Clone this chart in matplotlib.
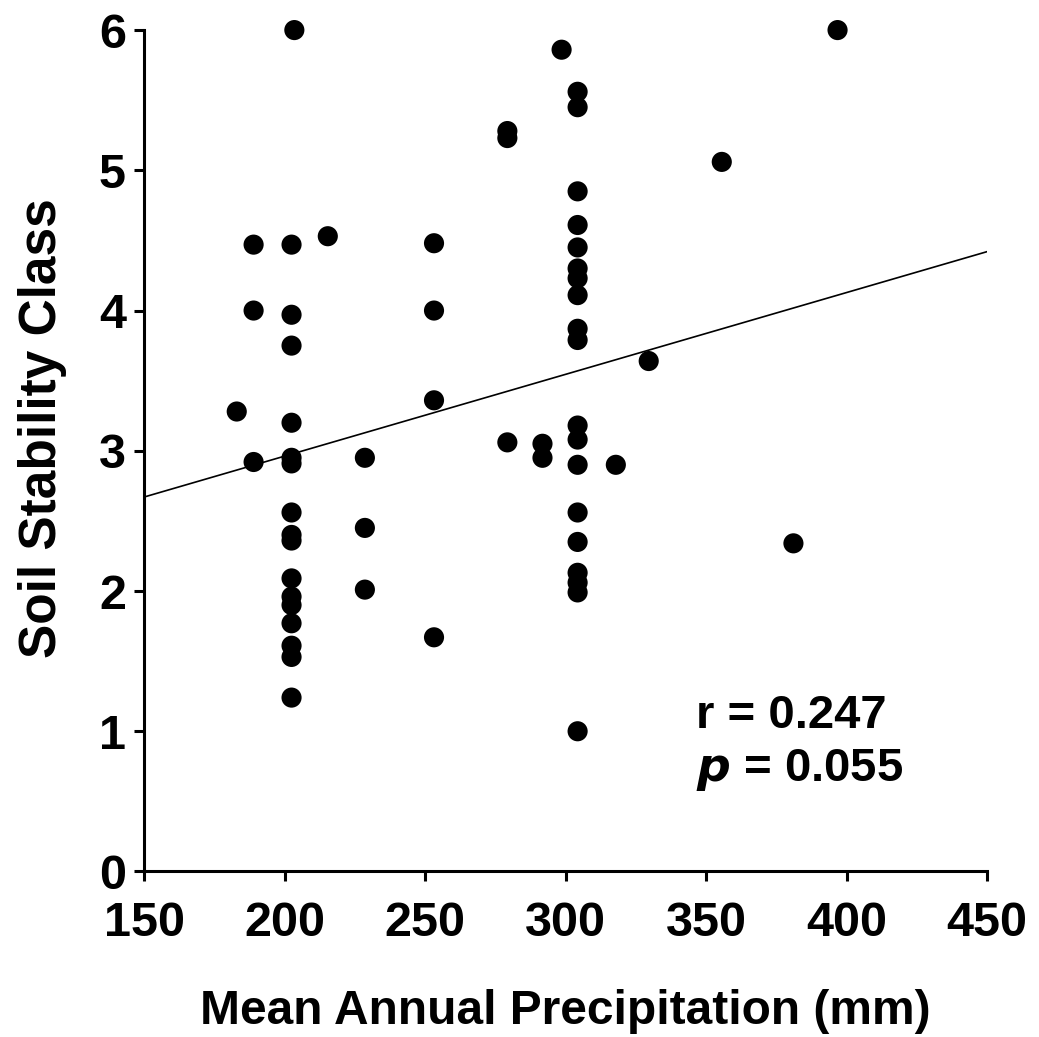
import matplotlib
matplotlib.use("Agg")
import matplotlib.pyplot as plt

plt.rcParams["font.family"] = ["Liberation Sans", "DejaVu Sans"]
plt.rcParams["font.weight"] = "bold"

# precipitation (mm) and soil stability class
precip = [183, 189, 189, 189,
          203.5, 202.5, 202.5, 202.5, 202.5, 202.5, 202.5, 202.5, 202.5, 202.5,
          202.5, 202.5, 202.5, 202.5, 202.5, 202.5, 202.5,
          215.4, 228.6, 228.6, 228.6,
          253.2, 253.2, 253.2, 253.2,
          279.3, 279.3, 279.3, 291.8, 291.8, 298.6,
          304.3, 304.3, 304.3, 304.3, 304.3, 304.3, 304.3, 304.3, 304.3, 304.3,
          304.3, 304.3, 304.3, 304.3, 304.3, 304.3, 304.3, 304.3, 304.3,
          317.9, 329.6, 355.6, 381.1, 396.8]
stability = [3.28, 4.47, 4.00, 2.92,
             6.00, 4.47, 3.97, 3.75, 3.20, 2.95, 2.91, 2.56, 2.40, 2.36,
             2.09, 1.96, 1.90, 1.77, 1.61, 1.53, 1.24,
             4.53, 2.95, 2.45, 2.01,
             4.48, 4.00, 3.36, 1.67,
             5.28, 5.23, 3.06, 3.05, 2.95, 5.86,
             5.56, 5.45, 4.85, 4.61, 4.45, 4.30, 4.23, 4.11, 3.87, 3.79,
             3.18, 3.08, 2.90, 2.56, 2.35, 2.13, 2.06, 1.99, 1.00,
             2.90, 3.64, 5.06, 2.34, 6.00]

# fitted line end points
fit_x = [150, 450]
fit_y = [2.67, 4.42]

fig = plt.figure(figsize=(10.39, 10.37), dpi=100)
ax = fig.add_axes([0.1386, 0.1596, 0.8114, 0.8114])

ax.plot(fit_x, fit_y, color="black", linewidth=1.2, zorder=2)
ax.scatter(precip, stability, s=210, color="black", edgecolors="none", zorder=3, clip_on=False)

ax.set_xlim(150, 450)
ax.set_ylim(0, 6)
ax.set_xticks([150, 200, 250, 300, 350, 400, 450])
ax.set_yticks([0, 1, 2, 3, 4, 5, 6])

for s in ["top", "right"]:
    ax.spines[s].set_visible(False)
for s in ["left", "bottom"]:
    ax.spines[s].set_linewidth(2.2)
ax.tick_params(direction="out", length=7, width=2.2, labelsize=35)
ax.tick_params(axis="x", pad=14)
ax.tick_params(axis="y", pad=6)

ax.set_xlabel("Mean Annual Precipitation (mm)", fontsize=34.5, fontweight="bold", labelpad=31)
ax.set_ylabel("Soil Stability Class", fontsize=37, fontweight="bold")
ax.yaxis.set_label_coords(-0.091, 0.527)

ax.text(0.655, 0.171, "r = 0.247", transform=ax.transAxes, fontsize=34, fontweight="bold")
ax.text(0.655, 0.108, r"$\mathbfit{p}$ = 0.055", transform=ax.transAxes, fontsize=34, fontweight="bold")

fig.savefig("out.png", dpi=100)
